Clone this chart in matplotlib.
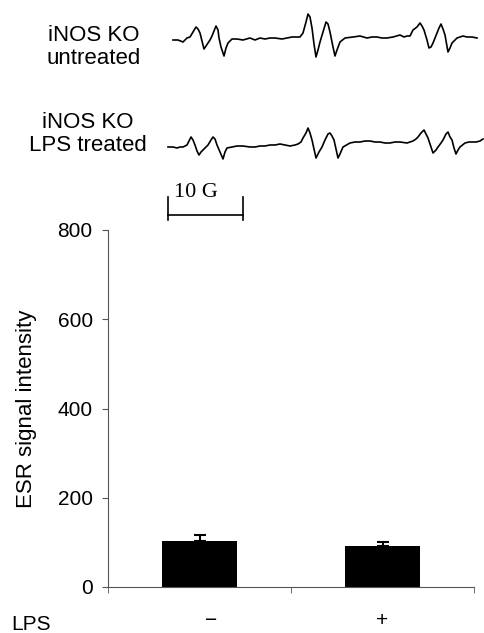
import matplotlib.pyplot as plt
import matplotlib.transforms as mtransforms
import numpy as np

# bar chart data
lps_labels = ['\u2212', '+']
esr_mean = [103, 92]
esr_err = [13, 9]

# traced ESR spectra (page x, page y of the trace)
trace1_x = [173, 178, 183, 187, 190, 193, 196, 198, 200, 202, 204, 206, 208, 210, 212, 214, 216, 218, 219, 221,
            224, 226, 228, 232, 237, 243, 250, 255, 260, 265, 270, 275, 282, 287, 292, 296, 300, 303, 306, 308,
            310, 312, 314, 316, 318, 320, 323, 326, 328, 330, 333, 335, 337, 340, 345, 353, 360, 367, 372, 377,
            382, 387, 393, 400, 404, 407, 410, 413, 417, 420, 422, 424, 427, 429, 431, 433, 435, 437, 439, 441,
            443, 445, 448, 450, 452, 457, 463, 467, 472, 477]
trace1_y = [40, 40, 42, 38, 37, 32, 27, 29, 33, 41, 49, 46, 43, 40, 36, 31, 26, 30, 38, 47,
            56, 48, 43, 39, 39, 40, 38, 40, 38, 39, 38, 38, 39, 38, 37, 37, 37, 33, 22, 14,
            17, 28, 44, 57, 50, 42, 32, 22, 24, 32, 47, 56, 50, 42, 38, 37, 36, 38, 37, 37,
            38, 38, 37, 35, 37, 36, 36, 30, 27, 23, 26, 30, 40, 48, 47, 43, 38, 33, 28, 24,
            29, 35, 52, 48, 43, 38, 36, 37, 37, 38]
trace2_x = [168, 173, 177, 180, 183, 187, 189, 191, 193, 195, 197, 199, 201, 203, 206, 208, 211, 213, 215, 217,
            220, 223, 225, 227, 232, 237, 243, 250, 255, 260, 265, 270, 275, 280, 285, 290, 295, 298, 301, 303,
            306, 308, 310, 312, 314, 316, 319, 322, 325, 328, 330, 332, 334, 336, 338, 340, 343, 350, 355, 360,
            365, 370, 375, 380, 385, 390, 395, 400, 407, 413, 416, 418, 421, 424, 426, 428, 431, 433, 436, 438,
            441, 443, 446, 448, 450, 452, 454, 456, 458, 460, 465, 469, 472, 476, 480, 483]
trace2_y = [147, 147, 148, 147, 147, 145, 141, 137, 140, 145, 151, 155, 152, 150, 147, 145, 140, 137, 139, 145,
            152, 159, 152, 148, 147, 146, 146, 147, 147, 146, 146, 145, 145, 144, 145, 146, 145, 144, 142, 138,
            133, 128, 133, 140, 149, 158, 152, 147, 140, 134, 133, 136, 140, 149, 158, 154, 147, 143, 142, 142,
            141, 141, 142, 142, 143, 143, 142, 142, 143, 141, 139, 137, 133, 130, 134, 138, 147, 153, 150, 147,
            143, 140, 134, 132, 137, 140, 148, 154, 150, 147, 143, 142, 142, 142, 141, 139]

fig = plt.figure(figsize=(4.84, 6.33), dpi=100)

# overlay axes in page pixels for the spectra
top = fig.add_axes([0, 0, 1, 1])
top.set_xlim(0, 484)
top.set_ylim(633, 0)
top.axis('off')
top.plot(trace1_x, trace1_y, color='black', lw=1.2)
top.plot(trace2_x, trace2_y, color='black', lw=1.2)
top.text(94, 47, 'iNOS KO\nuntreated', ha='center', va='center', fontsize=16,
         family='Liberation Sans', linespacing=1.1)
top.text(88, 134, 'iNOS KO\nLPS treated', ha='center', va='center', fontsize=16,
         family='Liberation Sans', linespacing=1.1)
# 10 G scale bar
top.plot([168, 243], [215, 215], color='black', lw=1.2)
top.plot([168, 168], [197, 220], color='black', lw=1.2)
top.plot([243, 243], [197, 220], color='black', lw=1.2)
top.text(196, 197, '10 G', ha='center', va='baseline', fontsize=16, family='Liberation Serif')

# bar chart
ax = fig.add_axes([108 / 484, 46 / 633, 366 / 484, 357 / 633])
x = np.arange(len(esr_mean)) + 0.5
ax.bar(x, esr_mean, width=0.41, color='black')
ax.errorbar(x, esr_mean, yerr=[[0, 0], esr_err], fmt='none', ecolor='black',
            elinewidth=1.5, capsize=4, capthick=1.5)
ax.set_xlim(0, 2)
ax.set_ylim(0, 800)
ax.set_yticks([0, 200, 400, 600, 800])
ax.set_xticks(x)
ax.set_xticklabels(lps_labels, family='Liberation Sans', fontsize=15)
ax.set_xticks([0, 1, 2], minor=True)
ax.tick_params(axis='x', which='major', length=0, pad=17)
ax.tick_params(axis='x', which='minor', length=4, direction='out', color='#555555')
ax.tick_params(axis='y', length=4, direction='out', color='#555555', labelsize=15, pad=7)
for lab in ax.get_yticklabels():
    lab.set_family('Liberation Sans')
# the minus sits a little right of the bar centre
shift = mtransforms.ScaledTranslation(12 / 100, 0, fig.dpi_scale_trans)
ax.get_xticklabels()[0].set_transform(ax.get_xticklabels()[0].get_transform() + shift)
for s in ['top', 'right']:
    ax.spines[s].set_visible(False)
ax.spines['left'].set_color('#555555')
ax.spines['bottom'].set_color('#555555')
ax.set_ylabel('ESR signal intensity', family='Liberation Sans', fontsize=16, labelpad=15)
top.text(11, 624, 'LPS', ha='left', va='center', fontsize=15, family='Liberation Sans')

fig.savefig('out.png', dpi=100)
